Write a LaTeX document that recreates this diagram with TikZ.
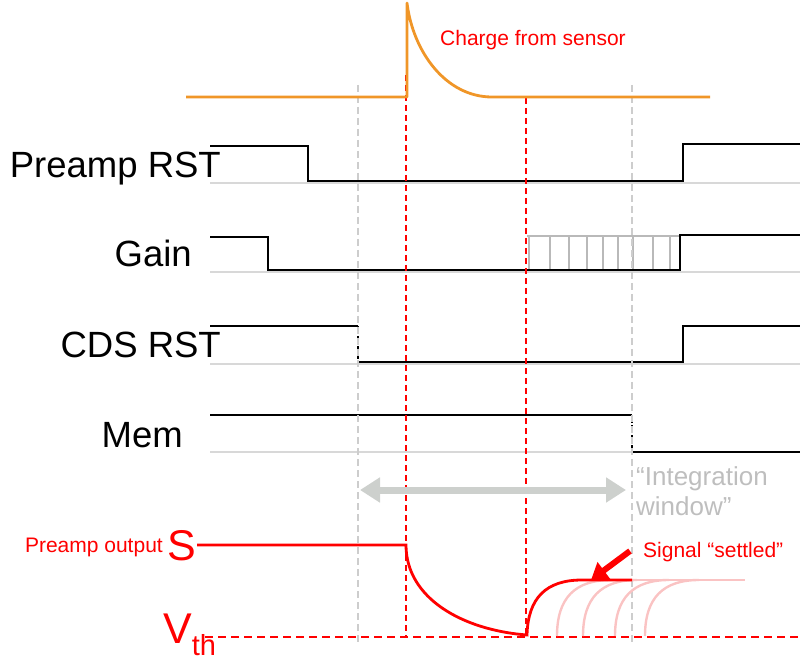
\documentclass[tikz,border=0pt]{standalone}
\usepackage{fontspec}
\setmainfont{Liberation Sans}
\usetikzlibrary{arrows.meta}
\definecolor{orng}{RGB}{240,150,40}
\definecolor{basegray}{RGB}{216,216,216}
\definecolor{dashgray}{RGB}{205,205,205}
\definecolor{hatchgray}{RGB}{185,185,185}
\definecolor{txtgray}{RGB}{190,190,190}
\definecolor{arrgray}{RGB}{205,208,205}
\definecolor{pinkred}{RGB}{250,195,195}
\definecolor{pure}{RGB}{255,0,0}
\begin{document}
\begin{tikzpicture}[x=1pt,y=-1pt,
  sig/.style={line width=2.8pt, black},
  baseln/.style={line width=2.4pt, basegray},
  reddash/.style={line width=2.6pt, pure, dash pattern=on 6pt off 4pt},
  graydash/.style={line width=2.4pt, dashgray, dash pattern=on 7pt off 4pt},
  hatch/.style={line width=2pt, hatchgray},
  lbl/.style={inner sep=0pt, font=\fontsize{36.5}{40}\selectfont, anchor=base east},
  rtxt/.style={inner sep=0pt, text=pure, font=\fontsize{21}{24}\selectfont},
  faded/.style={line width=2.4pt, pinkred}]
\useasboundingbox (0,0) rectangle (804,663);

% ---- labels
\node[lbl] (lpre) at (221,178) {Preamp RST};
\node[lbl] (lgain) at (192,267) {Gain};
\node[lbl] (lcds) at (221,358) {CDS RST};
\node[lbl] (lmem) at (183,447) {Mem};

% ---- gray baselines
\draw[baseln] (210,183) -- (800,183);
\draw[baseln] (210,272) -- (800,272);
\draw[baseln] (210,364) -- (800,364);
\draw[baseln] (210,452) -- (800,452);

% ---- Gain hatch region
\draw[hatch] (527,236) -- (680,236);
\foreach \xx in {529,550,569,587,603,618,633,653,670}
  \draw[hatch] (\xx,236) -- (\xx,271);

% ---- signals
\draw[sig] (210,146) -- (308,146) -- (308,181) -- (683,181) -- (683,144) -- (800,144);
\draw[sig] (210,237) -- (268,237) -- (268,270) -- (680,270) -- (680,235) -- (800,235);
\draw[sig] (210,326) -- (358,326);
\draw[line width=1.8pt, black, dash pattern=on 3pt off 2pt] (358,326) -- (358,362);
\draw[sig] (358,362) -- (683,362) -- (683,326) -- (800,326);
\draw[sig] (210,415) -- (632,415);
\draw[line width=1.8pt, black, dash pattern=on 3pt off 2pt] (632,415) -- (632,452);
\draw[sig] (632,452) -- (800,452);

% ---- vertical guide lines
\coordinate (g1t) at (358,85);  \coordinate (g1b) at (358,642);
\coordinate (g2t) at (632,85);  \coordinate (g2b) at (632,642);
\coordinate (r1t) at (406,75);  \coordinate (r1b) at (406,637);
\coordinate (r2t) at (526,98);  \coordinate (r2b) at (526,637);
\draw[graydash] (g1t) -- (g1b);
\draw[graydash] (g2t) -- (g2b);
\draw[reddash] (r1t) -- (r1b);
\draw[reddash] (r2t) -- (r2b);

% ---- charge from sensor
\coordinate (o0) at (186,97);
\coordinate (o1) at (407,97);
\coordinate (o2) at (407,3);
\coordinate (o3) at (492,97);
\coordinate (o4) at (710,97);
\draw[line width=2.8pt, orng, line join=round] (o0) -- (o1) -- (o2) .. controls (413,52) and (446,97) .. (o3) -- (o4);
\node[rtxt, anchor=base west] (charge) at (440,46) {Charge from sensor};

% ---- integration window arrow
\coordinate (iwl) at (360,490);
\coordinate (iwr) at (626,490);
\draw[line width=7pt, arrgray, {Triangle[length=20pt,width=24pt]}-{Triangle[length=20pt,width=24pt]}] (iwl) -- (iwr);
\node[inner sep=0pt, text=txtgray, font=\fontsize{26}{30.5}\selectfont, anchor=north west, align=left] (iw) at (636,466) {``Integration\\window''};

% ---- preamp output
\node[rtxt, anchor=base east] (pout) at (163,552) {Preamp output};
\node[inner sep=0pt, text=pure, font=\fontsize{43}{46}\selectfont, anchor=base west] (S) at (167,560) {S};
\node[inner sep=0pt, text=pure, font=\fontsize{43}{46}\selectfont, anchor=base west] (V) at (163,643) {V\raisebox{-12pt}{\fontsize{29}{31}\selectfont th}};
\coordinate (vth0) at (205,637);
\coordinate (vth1) at (800,637);
\draw[line width=2.6pt, pure, dash pattern=on 8pt off 5pt] (vth0) -- (vth1);

% faded copies
\foreach \xs in {557,583,615,645}
  \draw[faded] (\xs,636) .. controls (\xs,598) and (\xs+18,580) .. (\xs+54,580);
\draw[faded] (632,580) -- (745,580);

\coordinate (p0) at (197,545);
\coordinate (p1) at (406,545);
\coordinate (p2) at (527,635);
\coordinate (p3) at (582,580);
\coordinate (p4) at (632,580);
\draw[line width=2.8pt, pure] (p0) -- (p1) .. controls (406,598) and (462,630) .. (p2)
  .. controls (528,598) and (546,580) .. (p3) -- (p4);

% ---- signal settled
\coordinate (sa0) at (630,551);
\coordinate (sa1) at (591,580);
\draw[line width=6pt, pure, -{Triangle[length=16pt,width=20pt]}] (sa0) -- (sa1);
\node[rtxt, anchor=base west] (settled) at (643,557) {Signal ``settled''};
\end{tikzpicture}
\end{document}
